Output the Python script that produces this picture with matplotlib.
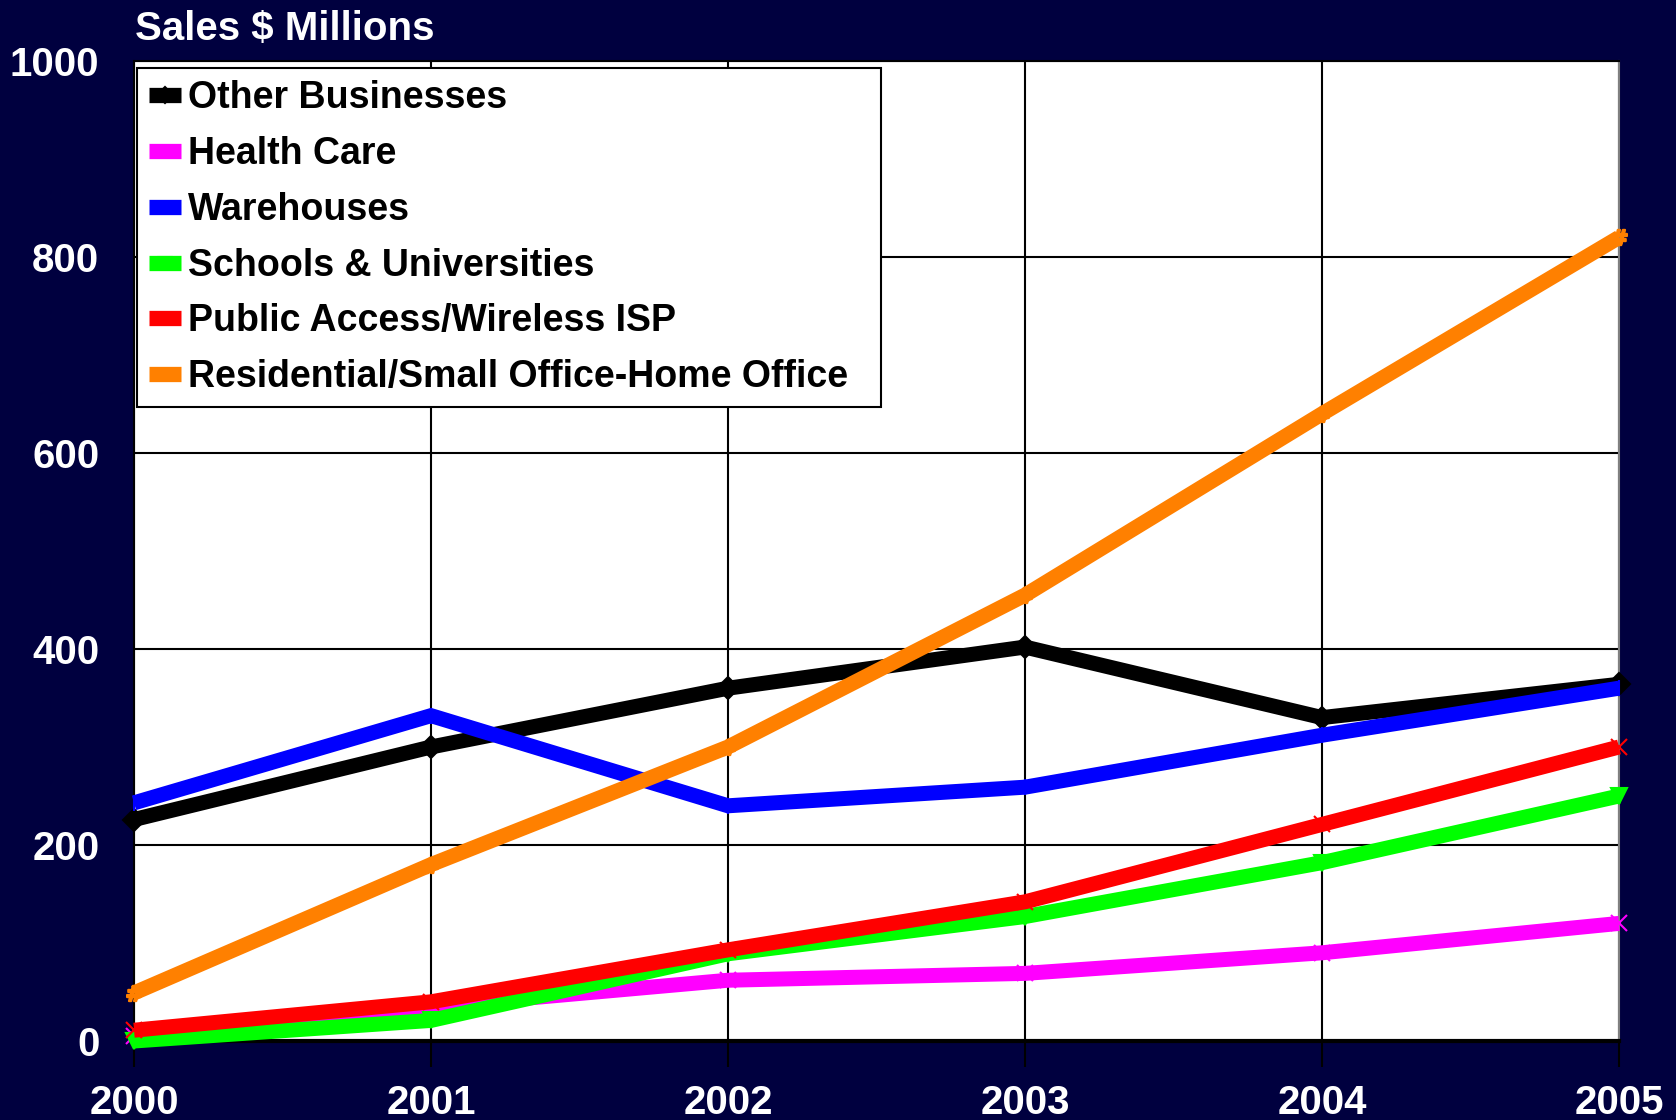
import matplotlib
matplotlib.use("Agg")
import matplotlib.pyplot as plt

years = [2000, 2001, 2002, 2003, 2004, 2005]
other_businesses = [226, 300, 360, 402, 330, 364]
health_care = [5, 35, 62, 69, 90, 120]
warehouses = [243, 332, 240, 259, 312, 360]
schools = [0, 21, 89, 127, 182, 250]
public_access = [11, 40, 93, 142, 221, 300]
residential = [49, 180, 300, 455, 640, 820]

series_names = ["Other Businesses", "Health Care", "Warehouses",
                "Schools & Universities", "Public Access/Wireless ISP",
                "Residential/Small Office-Home Office"]
series_values = [other_businesses, health_care, warehouses, schools,
                 public_access, residential]
colors = ["#000000", "#FF00FF", "#0000FF", "#00FF00", "#FF0000", "#FF8000"]
markers = ["D", "x", "|", "v", "x", "$\\#$"]

y_ticks = [0, 200, 400, 600, 800, 1000]

BG = "#00003F"
plt.rcParams["font.family"] = ["Liberation Sans", "DejaVu Sans"]
plt.rcParams["font.weight"] = "bold"

fig = plt.figure(figsize=(16.76, 11.2), dpi=100, facecolor=BG)
ax = fig.add_axes([134 / 1676, 79 / 1120, 1485 / 1676, 980 / 1120])
ax.set_facecolor("white")

for name, vals, c, m in zip(series_names, series_values, colors, markers):
    ax.plot(years, vals, color=c, lw=10.8, label=name, marker=m,
            markersize=11, markeredgewidth=1.5, markerfacecolor=c,
            markeredgecolor=c, clip_on=False, solid_joinstyle="miter",
            solid_capstyle="butt", zorder=3)

ax.set_xlim(2000, 2005)
ax.set_ylim(0, 1000)
ax.set_xticks(years)
ax.set_xticklabels([str(y) for y in years])
ax.set_yticks(y_ticks)
ax.set_yticklabels([str(v) for v in y_ticks])
ax.grid(True, color="black", lw=1.5, zorder=1)
ax.set_axisbelow(True)

ax.tick_params(axis="x", colors="black", length=19, width=1.5, direction="out",
               labelcolor="white", labelsize=29, pad=12)
ax.tick_params(axis="y", length=0, labelcolor="white", labelsize=29, pad=25)
for lbl in ax.get_xticklabels() + ax.get_yticklabels():
    lbl.set_fontweight("bold")

for side in ["left", "top"]:
    ax.spines[side].set_color("black")
    ax.spines[side].set_linewidth(1.5)
ax.spines["bottom"].set_color("black")
ax.spines["bottom"].set_linewidth(3)
ax.spines["right"].set_color("#808080")
ax.spines["right"].set_linewidth(1.5)

leg = ax.legend(loc="upper left",
                bbox_to_anchor=(3 / 1485, (1041 - 399) / 980, 744 / 1485, 331 / 980),
                mode="expand", borderaxespad=0, frameon=True, fancybox=False,
                edgecolor="black", facecolor="white", framealpha=1,
                handlelength=0.85, handletextpad=0.19, labelspacing=0.53,
                borderpad=0.32, prop={"weight": "bold", "size": 27})
leg.get_frame().set_linewidth(1.5)
for line in leg.get_lines():
    line.set_linewidth(11)
    line.set_markersize(8)
    line.set_solid_capstyle("butt")
leg.set_zorder(5)

fig.text(135 / 1676, 1 - 29 / 1120, "Sales $ Millions", color="white",
         fontsize=29, fontweight="bold", va="center", ha="left")

fig.savefig("out.png", dpi=100, facecolor=BG)
